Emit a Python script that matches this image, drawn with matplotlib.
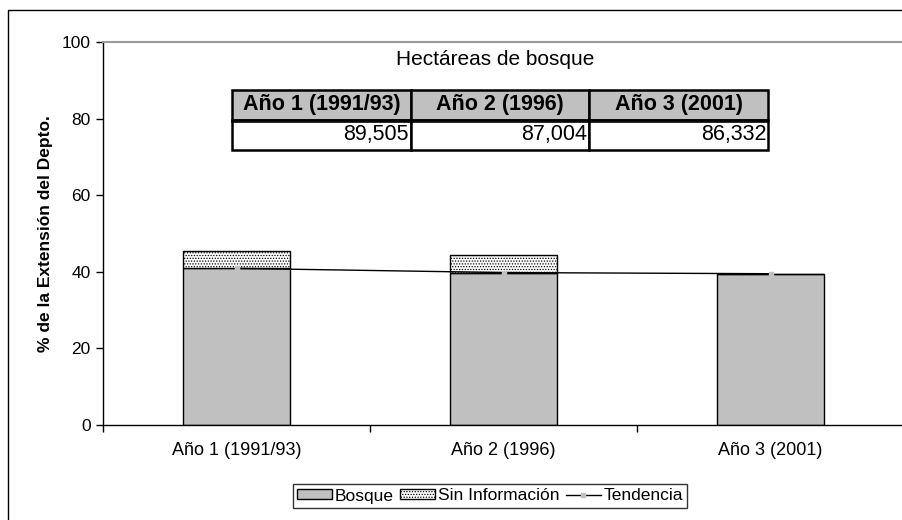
import matplotlib
matplotlib.use("Agg")
import matplotlib.pyplot as plt
from matplotlib.patches import Patch, Rectangle
from matplotlib.lines import Line2D

plt.rcParams['font.family'] = ['Liberation Sans', 'DejaVu Sans']
plt.rcParams['hatch.color'] = '#d0d0d0'
plt.rcParams['hatch.linewidth'] = 0.6

categories = ["Año 1 (1991/93)", "Año 2 (1996)", "Año 3 (2001)"]
bosque = [40.9, 39.8, 39.5]
sin_info = [4.6, 4.5, 0.0]
tendencia = [40.9, 39.8, 39.5]
hectareas = ["89,505", "87,004", "86,332"]
yticks = [0, 20, 40, 60, 80, 100]

fig = plt.figure(figsize=(9.02, 5.2), dpi=100)
# outer chart frame
fig.patches.append(Rectangle((8 / 902, -0.05), 1.1, 1 - 10 / 520 + 0.05,
                             transform=fig.transFigure, fill=False,
                             edgecolor='black', linewidth=1.0))

ax = fig.add_axes([103 / 902, 1 - 425 / 520, 801 / 902, 383 / 520])
x = list(range(len(categories)))
ax.bar(x, bosque, width=0.4, color='#c0c0c0', edgecolor='black', linewidth=1.0, zorder=2)
ax.bar(x, sin_info, width=0.4, bottom=bosque, color='white', edgecolor='black',
       hatch='......', linewidth=1.0, zorder=2)
ax.plot(x, tendencia, color='black', linewidth=1.0, marker='s', markersize=3,
        markerfacecolor='#c0c0c0', markeredgecolor='#c0c0c0', zorder=3)

ax.set_xlim(-0.5, 2.5)
ax.set_ylim(0, 100)
ax.set_yticks(yticks)
ax.set_yticklabels([str(v) for v in yticks], fontsize=12.5)
ax.set_xticks([-0.5, 0.5, 1.5, 2.5])
ax.set_xticklabels([])
ax.set_xticks(x, minor=True)
ax.set_xticklabels(categories, minor=True, fontsize=13)
ax.tick_params(axis='x', which='minor', length=0, pad=12)
ax.tick_params(axis='both', which='major', direction='out', length=5, width=1.0)
ax.tick_params(axis='y', pad=4)
ax.spines['top'].set_color('#999999')
ax.spines['top'].set_linewidth(1.5)
ax.spines['right'].set_visible(False)
ax.spines['left'].set_linewidth(1.0)
ax.spines['bottom'].set_linewidth(1.0)
ax.set_ylabel("% de la Extensión del Depto.", fontsize=12.5, fontweight='bold', labelpad=6)

# title and table
ax.text((495 - 103) / 801, (425 - 60) / 383, "Hectáreas de bosque", transform=ax.transAxes,
        ha='center', va='center', fontsize=15)

tbl = ax.table(cellText=[hectareas], colLabels=categories,
               bbox=[(232 - 103) / 801, (425 - 150) / 383, 536 / 801, 60 / 383],
               cellLoc='right', colLoc='center')
tbl.auto_set_font_size(False)
for (r, c), cell in tbl.get_celld().items():
    cell.set_linewidth(1.8)
    cell.set_edgecolor('black')
    if r == 0:
        cell.set_facecolor('#c0c0c0')
        cell.get_text().set_fontweight('bold')
        cell.get_text().set_fontsize(15.5)
    else:
        cell.set_facecolor('white')
        cell.get_text().set_fontsize(15.5)
        cell.PAD = 0.01
# double line under header
ax.plot([(232 - 103) / 801, (768 - 103) / 801], [(425 - 122) / 383] * 2,
        transform=ax.transAxes, color='black', linewidth=1.2, zorder=10, clip_on=False)

handles = [Patch(facecolor='#c0c0c0', edgecolor='black', linewidth=1.0),
           Patch(facecolor='white', edgecolor='black', hatch='......', linewidth=1.0),
           Line2D([0], [0], color='black', linewidth=1.0, marker='s', markersize=3,
                  markerfacecolor='#c0c0c0', markeredgecolor='#c0c0c0')]
leg = fig.legend(handles, ["Bosque", "Sin Información", "Tendencia"], ncol=3,
                 loc='center', bbox_to_anchor=(490 / 902, 1 - 496 / 520),
                 frameon=True, fancybox=False, fontsize=12.5, handlelength=2.0,
                 handleheight=0.5, handletextpad=0.15, columnspacing=0.4,
                 borderpad=0.25, borderaxespad=0)
leg.get_frame().set_edgecolor('black')
leg.get_frame().set_linewidth(1.0)

fig.savefig("out.png", dpi=100)
